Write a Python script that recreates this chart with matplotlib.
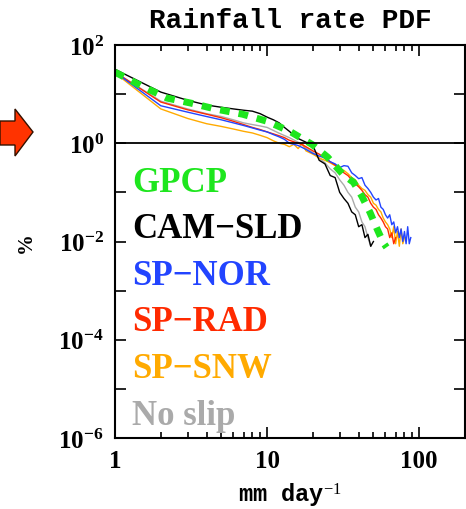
import numpy as np
import matplotlib
matplotlib.use("Agg")
import matplotlib.pyplot as plt
from matplotlib.patches import Polygon
from matplotlib.transforms import Affine2D

plt.rcParams["font.family"] = "Liberation Serif"
plt.rcParams["mathtext.fontset"] = "custom"
plt.rcParams["mathtext.rm"] = "Liberation Serif"
plt.rcParams["mathtext.it"] = "Liberation Serif:italic"
plt.rcParams["mathtext.bf"] = "Liberation Serif:bold"

# rain rate bins (mm/day) and PDF values (%)
gpcp_x = [1, 1.5, 2.2, 3.2, 4.55, 6.9, 10, 14.1, 19.8, 25, 31.6, 37, 42, 47.5, 53, 58, 61]
gpcp_y = [28, 14.6, 8.3, 6.5, 5.0, 3.9, 2.8, 1.75, 0.94, 0.52, 0.23, 0.16, 0.083, 0.039,
          0.0176, 0.0095, 0.0076]

cam_x = [1, 2, 3, 4, 5, 6, 7, 8, 9, 10, 11, 12, 13, 14, 15, 16, 18, 20, 22, 24, 26, 28,
         30, 32, 34, 36, 38, 40, 42, 44, 46, 48, 50]
cam_y = [32, 11, 7.5, 6.0, 5.4, 5.0, 4.7, 4.5, 4.0, 3.4, 3.0, 2.6, 2.1, 1.75, 1.45, 1.25,
         1.05, 0.9, 0.45, 0.38, 0.22, 0.2, 0.1, 0.075, 0.06, 0.04, 0.035, 0.02, 0.022, 0.012,
         0.014, 0.008, 0.01]

nor_x = [1, 2, 3, 4, 5, 6, 7, 8, 9, 10, 11, 12, 13, 14, 15, 16, 18, 20, 22, 24, 26, 28, 30,
         32, 34, 36, 38, 40, 42, 44, 46, 48, 50, 52, 54, 56, 58, 60, 62, 64, 66, 68, 70, 72,
         74, 76, 78, 80, 82, 84, 86, 88]
nor_y = [28, 5.8, 4.3, 3.5, 3.0, 2.6, 2.3, 2.05, 1.85, 1.7, 1.5, 1.35, 1.2, 1.0, 0.95, 0.9,
         0.75, 0.62, 0.55, 0.5, 0.42, 0.38, 0.32, 0.35, 0.34, 0.25, 0.22, 0.19, 0.2, 0.14,
         0.12, 0.1, 0.08, 0.07, 0.075, 0.05, 0.045, 0.035, 0.03, 0.035, 0.022, 0.025, 0.015,
         0.02, 0.012, 0.018, 0.01, 0.016, 0.009, 0.02, 0.009, 0.012]

rad_x = [1, 2, 3, 4, 5, 6, 7, 8, 9, 10, 11, 12, 13, 14, 16, 17, 18, 20, 22, 24, 26, 28, 30,
         32, 34, 36, 38, 40, 42, 44, 46, 48, 50, 52, 54, 56, 58, 60, 62, 64, 66, 68, 70]
rad_y = [28, 6.9, 4.8, 3.9, 3.3, 2.8, 2.4, 2.1, 1.9, 1.7, 1.55, 1.42, 1.3, 1.15, 1.0, 0.94,
         0.85, 0.7, 0.6, 0.5, 0.42, 0.36, 0.3, 0.25, 0.22, 0.18, 0.15, 0.13, 0.11, 0.09, 0.08,
         0.06, 0.05, 0.045, 0.035, 0.03, 0.025, 0.02, 0.018, 0.012, 0.015, 0.009, 0.012]

snw_x = [1, 2, 3, 4, 5, 6, 7, 8, 9, 10, 11, 12, 13, 14, 15, 16, 17, 18, 20, 22, 24, 26, 28,
         30, 32, 34, 36, 38, 40, 42, 44, 46, 48, 50, 52, 54, 56, 58, 60, 62, 64, 66, 68, 70,
         72, 74, 76, 78, 80]
snw_y = [27, 5.0, 3.2, 2.5, 2.2, 1.95, 1.75, 1.62, 1.45, 1.3, 1.12, 1.0, 0.95, 0.85, 0.95,
         0.78, 1.0, 0.7, 0.6, 0.5, 0.45, 0.4, 0.35, 0.3, 0.28, 0.24, 0.2, 0.18, 0.14, 0.12,
         0.11, 0.09, 0.08, 0.06, 0.055, 0.045, 0.04, 0.03, 0.025, 0.022, 0.018, 0.012, 0.02,
         0.009, 0.016, 0.008, 0.018, 0.009, 0.012]

noslip_x = [1, 2, 3, 4, 5, 6, 7, 8, 9, 10, 12, 14, 16, 18, 20, 22, 24, 26, 28, 30, 32, 34,
            36, 38, 40, 42, 44, 46, 48]
noslip_y = [28, 7.2, 5.0, 4.0, 3.5, 3.0, 2.6, 2.4, 2.25, 2.1, 1.6, 1.3, 1.05, 0.8, 0.65,
            0.5, 0.4, 0.3, 0.25, 0.18, 0.14, 0.1, 0.08, 0.05, 0.04, 0.025, 0.02, 0.012, 0.008]

labels = ["GPCP", "CAM\u2212SLD", "SP\u2212NOR", "SP\u2212RAD", "SP\u2212SNW", "No slip"]
colors = ["#1ee61e", "black", "#2244ff", "#ff2a00", "#ffaa00", "#aaaaaa"]

fig = plt.figure(figsize=(4.66, 5.10), dpi=100)
ax = fig.add_axes([115 / 466, 71 / 510, 350 / 466, 393 / 510])

ax.plot(noslip_x, noslip_y, color=colors[5], lw=1.0)
ax.plot(snw_x, snw_y, color=colors[4], lw=1.0)
ax.plot(rad_x, rad_y, color=colors[3], lw=1.0)
ax.plot(nor_x, nor_y, color=colors[2], lw=1.0)
ax.plot(cam_x, cam_y, color=colors[1], lw=1.0)
ax.plot(gpcp_x, gpcp_y, color=colors[0], lw=5, linestyle=(0, (1.4, 1.3)))

ax.axhline(1.0, color="black", lw=1.3)

ax.set_xscale("log")
ax.set_yscale("log")
ax.set_xlim(1, 200)
ax.set_ylim(1e-6, 1e2)

ax.set_xticks([1, 10, 100])
ax.set_xticklabels(["1", "10", "100"])
ax.set_yticks([10.0 ** k for k in range(-6, 3)])
ax.set_yticklabels([r"$\mathbf{10^{%d}}$" % k if k % 2 == 0 else "" for k in range(-6, 3)])
ax.xaxis.set_minor_locator(matplotlib.ticker.LogLocator(base=10, subs=np.arange(2, 10)))
ax.yaxis.set_minor_locator(matplotlib.ticker.NullLocator())
ax.tick_params(which="both", direction="in", top=True, right=True, labelsize=18, width=1.2)
ax.tick_params(which="major", length=8, pad=8)
ax.tick_params(which="minor", length=4)
for lab in ax.get_xticklabels():
    lab.set_fontweight("bold")
for s in ax.spines.values():
    s.set_linewidth(1.5)

ax.set_title("Rainfall rate PDF", fontsize=20, pad=13, family="Liberation Mono", weight="bold")
ax.set_xlabel("mm day$^{-1}$", fontsize=17, labelpad=6, family="Liberation Mono", weight="bold")
ax.set_ylabel("%", fontsize=15, labelpad=16, weight="bold")

# legend as coloured labels
for i, (lab, c) in enumerate(zip(labels, colors)):
    ax.text(0.05, 0.651 - i * 0.1185, lab, color=c, fontsize=25, weight="bold",
            transform=ax.transAxes, va="center", ha="left")

# arrow marker at the left
arrow = Polygon([(0, 122), (15, 122), (15, 110), (33, 133), (15, 157), (15, 146), (0, 146)],
                closed=True, facecolor="#ff3300", edgecolor="#331100", lw=1.0,
                transform=Affine2D().scale(1, -1).translate(0, 510))
fig.patches.append(arrow)
arrow.set_figure(fig)

fig.savefig("out.png", dpi=100)
